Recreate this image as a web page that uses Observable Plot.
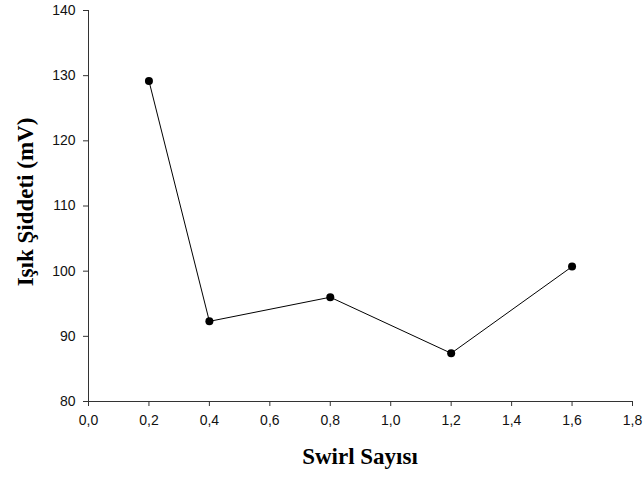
<!DOCTYPE html>
<html>
<head>
<meta charset="utf-8">
<script src="https://cdn.jsdelivr.net/npm/d3@7"></script>
<script src="https://cdn.jsdelivr.net/npm/@observablehq/plot@0.6"></script>
<style>
  html, body { margin: 0; padding: 0; background: #fff; }
  #chart svg { display: block; }
</style>
</head>
<body>
<div id="chart"></div>
<script>
const swirl = [0.2, 0.4, 0.8, 1.2, 1.6];
const intensity = [129.2, 92.3, 96.0, 87.4, 100.7];
const xTicks = [0, 0.2, 0.4, 0.6, 0.8, 1.0, 1.2, 1.4, 1.6, 1.8];
const yTicks = [80, 90, 100, 110, 120, 130, 140];
const xLabel = "Swirl Sayısı";
const yLabel = "Işık Şiddeti (mV)";

const data = swirl.map((x, i) => ({x, y: intensity[i]}));
const fmt = d => d.toFixed(1).replace(".", ",");

const W = 644, H = 478;
const mL = 88, mR = 12, mT = 10, mB = 77;
const tickFont = "'Liberation Sans', Arial, sans-serif";

const plot = Plot.plot({
  width: W,
  height: H,
  marginLeft: mL,
  marginRight: mR,
  marginTop: mT,
  marginBottom: mB,
  style: {fontFamily: tickFont, color: "#111", background: "#fff", overflow: "visible"},
  x: {domain: [0, 1.8], label: null, axis: null},
  y: {domain: [80, 140], label: null, axis: null},
  marks: [
    Plot.ruleX([0], {stroke: "#333", strokeWidth: 1}),
    Plot.ruleY([80], {stroke: "#333", strokeWidth: 1}),
    Plot.axisX({ticks: xTicks, tickFormat: () => "", tickSize: 5, stroke: "#333", label: null}),
    Plot.axisY({ticks: yTicks, tickFormat: () => "", tickSize: 5, stroke: "#333", label: null}),
    Plot.text(xTicks, {x: d => d, y: 80, text: fmt, dy: 19, fontSize: 14, fontFamily: tickFont, fill: "#111", lineAnchor: "middle", textAnchor: "middle"}),
    Plot.text(yTicks, {x: 0, y: d => d, text: d => String(d), dx: -13, fontSize: 14, fontFamily: tickFont, fill: "#111", textAnchor: "end", lineAnchor: "middle"}),
    Plot.line(data, {x: "x", y: "y", stroke: "#000", strokeWidth: 1}),
    Plot.dot(data, {x: "x", y: "y", r: 4, fill: "#000", stroke: "none"})
  ]
});

const svg = d3.select(plot);
svg.append("text")
  .attr("x", mL + (W - mL - mR) / 2)
  .attr("y", 464)
  .attr("text-anchor", "middle")
  .style("font-family", "'Liberation Serif', 'Times New Roman', serif")
  .style("font-weight", "bold")
  .style("font-size", "23px")
  .attr("fill", "#000")
  .text(xLabel);
svg.append("text")
  .attr("transform", `translate(33, 202) rotate(-90)`)
  .attr("text-anchor", "middle")
  .style("font-family", "'Liberation Serif', 'Times New Roman', serif")
  .style("font-weight", "bold")
  .style("font-size", "23px")
  .attr("fill", "#000")
  .text(yLabel);

document.getElementById("chart").appendChild(plot);
</script>
</body>
</html>
